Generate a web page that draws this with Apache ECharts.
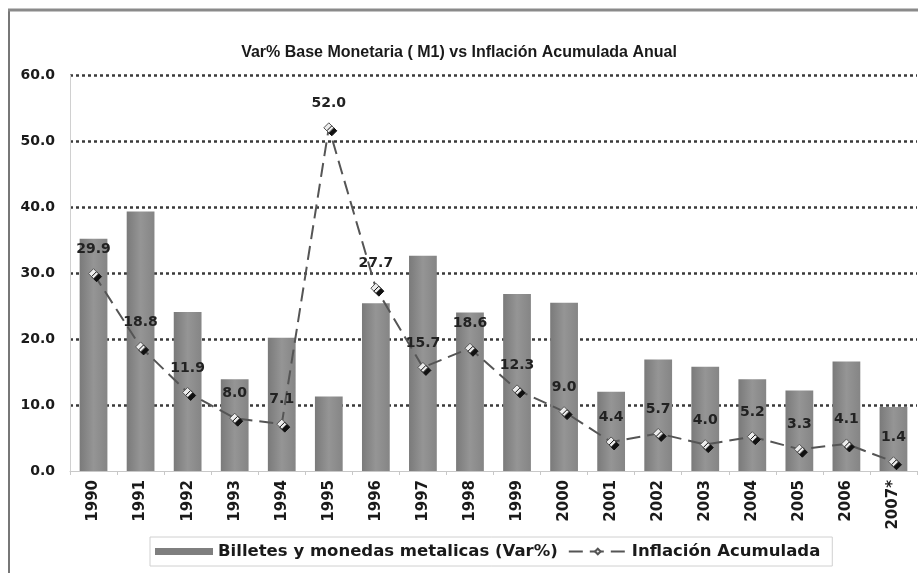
<!DOCTYPE html>
<html>
<head>
<meta charset="utf-8">
<script src="https://cdn.jsdelivr.net/npm/echarts@6/dist/echarts.min.js"></script>
<style>html,body{margin:0;padding:0;background:#fff}#c{width:918px;height:573px}</style>
</head>
<body>
<div id="c"></div>
<script>
const titleText = 'Var% Base Monetaria ( M1) vs Inflación Acumulada Anual';
const years = ['1990','1991','1992','1993','1994','1995','1996','1997','1998','1999','2000','2001','2002','2003','2004','2005','2006','2007*'];
const billetes = [35.2, 39.3, 24.1, 13.9, 20.2, 11.3, 25.4, 32.6, 24.0, 26.8, 25.5, 12.0, 16.9, 15.8, 13.9, 12.2, 16.6, 9.7];
const inflacion = [29.9, 18.8, 11.9, 8.0, 7.1, 52.0, 27.7, 15.7, 18.6, 12.3, 9.0, 4.4, 5.7, 4.0, 5.2, 3.3, 4.1, 1.4];
const seriesNames = ['Billetes y monedas metalicas (Var%)', 'Inflación Acumulada'];

const font = 'Liberation Sans, Arial, sans-serif';
const wide = 'DejaVu Sans, Verdana, sans-serif';
const chart = echarts.init(document.getElementById('c'), null, {renderer: 'canvas'});
chart.setOption({
  backgroundColor: '#fff',
  animation: false,
  title: {
    text: titleText, left: 'center', top: 40,
    textStyle: {fontFamily: font, fontSize: 16, fontWeight: 'bold', color: '#1a1a1a'}
  },
  graphic: [
    {type: 'line', shape: {x1: 9, y1: 10, x2: 9, y2: 573}, style: {stroke: '#777', lineWidth: 2}},
    {type: 'line', shape: {x1: 8, y1: 10, x2: 918, y2: 10}, style: {stroke: '#8a8a8a', lineWidth: 3}}
  ],
  legend: {
    left: 150, top: 537,
    padding: [6, 12, 6, 5],
    borderColor: '#d0d0d0', borderWidth: 1,
    itemGap: 10,
    textStyle: {fontFamily: wide, fontSize: 16.5, fontWeight: 'bold', color: '#1a1a1a'},
    data: [
      {name: seriesNames[0], icon: 'rect', itemStyle: {color: '#7f7f7f'}},
      {name: seriesNames[1]}
    ],
    itemWidth: 58, itemHeight: 7
  },
  grid: {left: 70, right: 1, top: 75, bottom: 102, containLabel: false},
  xAxis: {
    type: 'category', data: years,
    axisLine: {show: true, lineStyle: {color: '#c8c8c8', width: 1}},
    axisTick: {show: true, length: 4, lineStyle: {color: '#c8c8c8'}},
    axisLabel: {rotate: 90, margin: 9, fontFamily: wide, fontSize: 15, fontWeight: 'bold', color: '#1a1a1a'},
    z: 5
  },
  yAxis: {
    type: 'value', min: 0, max: 60, interval: 10,
    axisLine: {show: true, lineStyle: {color: '#d0d0d0'}},
    axisTick: {show: false},
    axisLabel: {formatter: v => v.toFixed(1), margin: 15, fontFamily: wide, fontSize: 14, fontWeight: 'bold', color: '#1a1a1a'},
    splitLine: {show: true, showMinLine: false, lineStyle: {color: '#3a3a3a', width: 2.5, type: [3, 3]}}
  },
  series: [
    {
      name: seriesNames[0], type: 'bar', data: billetes, barWidth: '59%',
      itemStyle: {
        color: new echarts.graphic.LinearGradient(0, 0, 1, 0, [
          {offset: 0, color: '#7a7a7a'}, {offset: 0.5, color: '#959595'}, {offset: 1, color: '#858585'}
        ])
      },
      z: 2
    },
    {
      name: seriesNames[1], type: 'line', data: inflacion,
      symbol: 'diamond', symbolSize: 10,
      lineStyle: {color: '#555', width: 2, type: [14, 7]},
      itemStyle: {color: '#ececec', borderColor: '#555', borderWidth: 1, shadowColor: '#111', shadowOffsetX: 3, shadowOffsetY: 3, shadowBlur: 0},
      label: {show: true, position: 'top', distance: 12, formatter: p => p.value.toFixed(1), fontFamily: wide, fontSize: 14, fontWeight: 'bold', color: '#222'},
      z: 4
    }
  ]
});
</script>
</body>
</html>
